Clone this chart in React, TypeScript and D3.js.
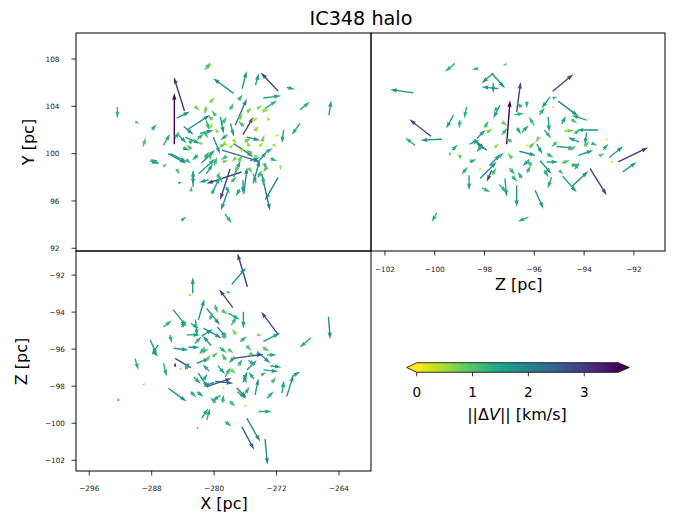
import React from "react";
import * as d3 from "d3";

// ---------- data ----------
// each arrow: [position1, position2, velocity1 (km/s), velocity2 (km/s), |ΔV| (km/s)]
const xyArrows: number[][] = [
  [-285.1, 100.8, 0, 3.66, 3.7], [-283.8, 103.6, -0.76, 2.43, 3.0], [-277.5, 105.1, -1.47, 1.07, 1.9],
  [-271.8, 105.3, -1.24, 1.31, 2.8], [-276.4, 105.5, 0.31, 1.26, 1.8], [-274.7, 105.8, 0.24, 0.84, 1.7],
  [-270.7, 105.6, 0.59, -0.14, 1.5], [-273.7, 104.7, 1.26, 0.16, 1.6], [-273.5, 103.8, 0.88, 0.59, 1.3],
  [-269.0, 103.7, 0.71, 0.59, 1.3], [-265.3, 103.25, 0.17, 1.07, 1.6], [-292.4, 103.95, 0, -0.83, 1.2],
  [-290.1, 102.7, 0.3, -0.12, 1.2], [-288.0, 102.0, 0.36, 0.43, 1.3], [-289.1, 100.6, 0.19, 0.66, 1.0],
  [-287.1, 99.2, -0.59, 0.29, 1.4], [-286.5, 98.9, 0.24, 0.24, 1.2], [-284.2, 94.35, 0.36, 0.29, 1.3],
  [-278.6, 94.9, 0.48, -0.66, 1.3], [-281.2, 107.1, 0.48, 0.43, 0.8], [-281.0, 107.3, 0.3, 0.35, 0.9],
  [-276.9, 104.5, 0.31, 0.43, 1.2], [-274.5, 103.8, 0.36, 0.24, 0.7], [-271.8, 98.0, -0.95, -1.66, 1.9],
  [-273.9, 98.3, 0.59, -2.62, 2.1], [-277.96, 98.7, -0.71, -2.21, 2.9], [-276.5, 98.45, -2.5, -0.83, 3.0],
  [-278.2, 96.9, -0.52, -1.43, 1.7], [-282.7, 98.45, 0, -0.95, 1.6], [-271.5, 99.0, 0, -0.36, 0.6],
  [-276.3, 97.75, 0, -0.95, 1.7], [-273.7, 98.0, 0, -0.6, 1.3], [-285.6, 100.0, 1.19, -0.6, 1.7],
  [-288.2, 99.4, 0.59, -0.24, 1.5], [-282.0, 98.3, 1.19, 1.07, 1.6], [-281.0, 98.3, 0.48, 0.71, 1.5],
  [-280.3, 96.6, 0.24, 0.48, 1.3], [-275.0, 98.3, 0.24, -0.71, 1.4], [-275.4, 99.4, 0.71, 0.24, 1.6],
  [-279.0, 100.3, 2.74, -0.83, 2.2], [-277.3, 102.4, 0.83, 1.9, 2.0], [-276.3, 101.6, 0.76, 1.31, 2.8],
  [-275.8, 103.5, 0.36, 0.36, 0.7], [-273.8, 103.6, 0.48, 0.12, 0.6], [-271.1, 102.0, -0.12, -0.95, 1.6],
  [-269.0, 102.55, -0.6, -0.83, 1.4], [-286.5, 100.7, 0.48, 0.83, 1.3], [-284.8, 103.0, 0.95, 0.48, 1.7],
  [-283.9, 102.3, 0.71, -0.6, 1.6], [-283.5, 102.0, 1.66, 1.07, 1.9], [-281.8, 101.7, 0.95, 0.24, 1.6],
  [-284.6, 101.6, 0.6, -0.6, 1.5], [-283.7, 101.4, 1.07, -0.48, 1.7], [-285.9, 100.0, 1.31, -0.71, 1.8],
  [-280.1, 101.4, 0.48, -1.19, 1.7], [-279.2, 103.1, 0.24, -1.19, 1.7], [-277.9, 102.55, 0.24, -0.95, 1.6],
  [-277.5, 100.85, 1.43, -0.95, 2.0], [-275.8, 101.4, 0.95, -0.24, 1.9], [-281.6, 99.2, 0.95, 0.95, 1.7],
  [-282.7, 97.2, 0, 1.19, 1.6], [-280.1, 96.9, 0.48, 0.95, 1.4], [-276.2, 96.6, 0.24, 1.9, 1.9],
  [-275.0, 97.5, 0.48, 1.66, 1.8], [-277.5, 98.0, 0.48, 1.19, 1.6], [-274.5, 99.2, 0.71, 0.83, 1.6],
  [-272.8, 99.6, 0.5, -0.2, 1.2], [-281.0, 102.8, 0.24, -0.71, 1.3], [-281.0, 104.0, -0.12, -0.6, 0.8],
  [-282.5, 104.0, 0.4, -0.3, 0.7], [-280.5, 102.2, 0.2, 0.35, 0.5], [-279.5, 101.8, -0.25, 0.3, 0.6],
  [-278.8, 101.0, 0.3, -0.3, 0.4], [-278.0, 100.5, 0.3, 0.25, 0.5], [-277.2, 99.7, -0.3, -0.35, 0.7],
  [-276.6, 100.2, 0.35, 0.2, 0.4], [-275.5, 100.6, -0.2, 0.4, 0.6], [-274.8, 101.9, 0.3, 0.4, 0.5],
  [-276.8, 102.9, 0.25, 0.45, 0.8], [-279.8, 103.2, -0.3, 0.4, 1.0], [-280.7, 100.0, 0.2, -0.5, 1.1],
  [-282.9, 100.4, -0.4, 0.3, 1.0], [-283.6, 99.5, 0.35, -0.3, 1.2], [-284.8, 98.7, 0.2, -0.4, 1.1],
  [-278.9, 99.3, 0.4, 0.1, 0.9], [-277.0, 98.9, -0.2, -0.5, 1.0], [-275.6, 98.8, 0.3, -0.4, 0.8],
  [-273.4, 100.1, 0.5, 0.3, 1.3], [-273.9, 101.0, 0.2, 0.5, 0.7], [-272.5, 100.8, 0.3, -0.2, 0.6],
  [-279.6, 98.0, 0.2, 0.4, 1.0], [-281.5, 100.8, -0.3, 0.2, 0.7], [-280.0, 99.0, 0.2, 0.6, 1.2],
  [-278.5, 97.2, 0.3, -0.5, 1.4], [-283.0, 96.8, 0.1, 0.4, 1.1], [-284.6, 97.5, 0.3, 0.1, 1.3],
  [-280.7, 97.8, -0.7, -0.2, 1.5], [-273.0, 102.8, -0.1, 0.3, 0.6], [-272.1, 101.5, 0.3, 0.1, 0.3],
  [-282.2, 101.2, 0.5, 0.4, 1.3], [-281.3, 101.9, 0.3, -0.5, 1.1], [-280.2, 102.9, -0.4, 0.3, 0.9],
  [-279.1, 102.4, 0.4, 0.6, 1.2], [-278.3, 101.6, -0.5, -0.4, 1.4], [-277.6, 101.2, 0.3, -0.3, 0.5],
  [-276.1, 101.0, 0.5, 0.3, 0.8], [-275.2, 100.0, -0.4, 0.3, 1.0], [-274.2, 100.6, 0.3, 0.3, 0.4],
  [-273.6, 99.2, 0.2, -0.5, 1.2], [-274.9, 99.8, 0.4, 0.0, 0.6], [-276.9, 99.3, 0.3, 0.5, 0.9],
  [-278.4, 99.8, -0.4, -0.3, 1.1], [-279.3, 100.6, 0.5, 0.2, 0.8], [-281.2, 99.6, 0.3, 0.5, 1.3],
  [-282.1, 99.9, -0.4, -0.4, 1.4], [-283.2, 100.9, 0.4, 0.3, 1.2], [-284.0, 100.5, 0.5, -0.2, 1.5],
  [-285.0, 101.3, 0.3, 0.5, 1.3], [-279.0, 97.6, -0.3, 0.6, 1.3], [-277.8, 97.6, 0.4, 0.4, 1.1],
  [-276.7, 97.0, -0.3, -0.5, 1.4], [-274.4, 98.0, 0.3, 0.5, 1.2], [-273.2, 98.9, -0.3, -0.4, 1.0],
  [-276.2, 102.3, -0.4, 0.4, 1.0], [-275.2, 102.8, 0.5, 0.2, 0.4], [-278.0, 103.7, 0.3, 0.5, 1.1],
  [-280.6, 104.3, 0.4, 0.4, 0.6],
];

const zyArrows: number[][] = [
  [-97.11, 100.8, 0.24, 3.14, 3.7], [-96.71, 103.53, 0.29, 2.14, 2.9], [-100.86, 105.14, -1.66, 0.24, 1.9],
  [-100.15, 101.47, -1.55, 1.21, 2.8], [-99.72, 101.22, -1.5, -0.07, 1.8], [-100.79, 100.7, -0.71, 0.55, 1.3],
  [-99.19, 107.63, -0.71, -0.6, 1.3], [-98.25, 107.2, -0.48, -0.07, 1.1], [-97.11, 107.57, -0.3, -0.1, 0.9],
  [-97.65, 106.8, -0.83, -0.71, 1.8], [-97.71, 106.8, 0.95, -1.07, 1.8], [-97.45, 105.5, -1.19, 0.11, 1.7],
  [-97.65, 105.95, 0, -0.71, 1.7], [-97.5, 103.9, -0.24, -0.36, 1.2], [-99.25, 103.25, -0.52, -0.95, 1.6],
  [-98.72, 103.95, -0.17, -0.83, 1.3], [-98.99, 102.83, -0.05, -0.6, 1.2], [-97.38, 104.1, -0.48, -0.95, 1.6],
  [-95.26, 105.28, 1.47, 1.21, 2.9], [-95.04, 104.44, 1.43, -1.07, 1.9], [-93.9, 102.83, -1.07, 0.36, 1.6],
  [-93.43, 102.0, -1.55, 0, 1.7], [-95.26, 104.7, 0.33, 0.07, 1.6], [-95.37, 104.8, -0.6, -0.83, 1.5],
  [-92.63, 99.3, 2.14, 1.03, 3.0], [-92.99, 99.67, 1.0, 0.81, 1.7], [-92.45, 98.45, 1.0, 0.71, 1.7],
  [-93.76, 98.73, 1.19, -1.9, 2.9], [-94.5, 97.2, 1.19, 1.12, 1.8], [-94.86, 98.1, 1.0, -1.16, 1.7],
  [-95.97, 96.9, 0.6, -1.31, 1.7], [-94.37, 98.7, 0.36, 0.48, 1.3], [-93.23, 100.3, 0.36, 0.48, 1.3],
  [-95.5, 99.3, 0.83, 0, 1.5], [-94.9, 99.2, 0.6, 0.2, 1.0], [-94.23, 99.86, 1.07, 0.36, 1.6],
  [-95.1, 100.6, 1.31, -0.12, 1.7], [-95.77, 99.4, 0.83, -0.95, 1.7], [-98.62, 98.17, 0, -1.07, 1.6],
  [-99.0, 99.9, 0.05, -0.36, 1.2], [-99.92, 94.97, -0.36, -0.64, 1.3], [-96.24, 94.63, -0.76, -0.31, 1.3],
  [-96.71, 97.32, 0, -1.55, 1.8], [-97.18, 97.9, 0.12, -1.31, 1.7], [-97.71, 98.6, -0.36, -0.83, 2.8],
  [-98.18, 97.9, 1.19, 1.19, 1.8], [-96.3, 104.4, 0, -0.48, 1.3], [-95.44, 103.1, 0.07, -1.07, 1.6],
  [-93.9, 101.8, -0.12, -0.9, 1.6], [-94.8, 101.9, 0.71, 0.05, 0.8], [-99.05, 99.86, 0.05, 0.05, 0.1],
  [-98.18, 98.73, 0.05, 0.05, 0.1], [-96.31, 100.7, 0.05, 0.05, 0.1], [-95.24, 103.95, 0.05, 0.05, 0.1],
  [-93.09, 101.2, 0.05, 0.05, 0.1], [-92.89, 99.3, 0.05, 0.05, 0.2], [-99.39, 100.1, 0, -0.3, 1.2],
  [-98.4, 101.2, 0.71, -0.71, 2.7], [-98.3, 101.3, 0.6, 0.6, 1.6], [-97.9, 100.3, -0.8, 0.5, 2.0],
  [-97.8, 99.0, 0.8, 0.8, 1.9], [-96.5, 101.8, 0.5, 0.5, 1.4], [-96.0, 102.4, -0.4, 0.6, 1.2],
  [-96.6, 100.2, 1.2, -0.3, 1.8], [-95.9, 100.8, 0.4, -0.7, 1.7], [-96.2, 99.5, -0.5, -0.5, 1.5],
  [-95.3, 98.0, -0.3, -0.8, 1.4], [-97.0, 98.8, 0.4, -0.5, 1.2], [-96.9, 99.6, -0.3, 0.4, 0.9],
  [-98.0, 102.2, 0.3, 0.5, 1.1], [-97.3, 102.7, 0.4, -0.3, 0.8], [-96.8, 103.3, 0.7, 0.1, 1.3],
  [-95.6, 102.0, 0.5, -0.6, 1.3], [-94.9, 102.5, 0.3, 0.6, 1.5], [-94.2, 101.0, -0.8, 0.3, 1.6],
  [-94.6, 100.3, 0.5, 0.3, 1.0], [-95.8, 101.4, -0.3, -0.4, 0.7], [-97.6, 100.5, 0.3, 0.3, 0.6],
  [-96.3, 98.4, 0.3, 0.5, 1.2], [-98.9, 98.3, 0.4, 0.5, 1.3], [-98.6, 100.8, 0.7, 0.3, 1.5],
  [-99.3, 100.3, 0.4, 0.4, 1.4], [-97.4, 97.4, 0.5, -0.6, 1.3], [-96.5, 97.9, -0.3, 0.5, 1.3],
  [-98.1, 97.1, 0.6, -0.3, 1.2], [-95.0, 98.6, 0.3, -0.3, 1.1], [-93.4, 99.8, 0.4, 0.2, 1.0],
  [-93.7, 100.9, 0.4, -0.2, 1.3], [-97.3, 101.6, 0.4, 0.5, 1.2], [-96.9, 101.0, -0.5, 0.3, 1.1],
  [-96.2, 100.5, 0.4, 0.4, 0.9], [-95.5, 100.0, 0.5, -0.3, 1.2], [-95.1, 101.0, -0.4, -0.4, 1.0],
  [-94.4, 101.7, 0.5, 0.3, 1.1], [-94.0, 100.6, 0.4, 0.4, 0.9], [-96.7, 102.2, 0.3, -0.5, 1.3],
  [-97.9, 101.8, 0.4, 0.3, 0.7], [-98.1, 100.7, -0.4, -0.5, 1.4], [-97.5, 99.6, 0.5, 0.4, 1.3],
  [-96.1, 99.0, -0.4, 0.4, 1.2], [-95.6, 98.6, 0.3, -0.5, 1.4], [-94.5, 99.0, 0.5, 0.1, 1.3],
  [-97.7, 98.2, 0.3, 0.5, 1.1], [-96.9, 98.1, 0.4, -0.4, 1.2], [-98.6, 99.3, 0.5, 0.2, 1.3],
  [-95.8, 103.3, 0.4, 0.5, 1.3], [-96.5, 103.9, -0.4, 0.4, 1.2], [-94.5, 102.9, 0.4, -0.3, 1.0],
];

const xzArrows: number[][] = [
  [-275.74, -92.63, -0.71, 2.39, 2.9], [-277.74, -92.5, 1.02, 1.19, 1.8], [-282.74, -92.98, 0, 1.14, 1.7],
  [-277.6, -93.76, -0.98, 1.31, 2.8], [-278.4, -92.9, 0.35, -0.1, 0.9], [-283.1, -93.07, 0.1, 0.1, 0.4],
  [-271.76, -95.23, -1.24, 1.66, 2.8], [-265.35, -94.25, 0.12, -1.6, 1.8], [-267.6, -95.38, -0.81, -0.71, 1.4],
  [-273.68, -95.58, 1.19, 0.6, 1.6], [-276.25, -93.98, 0, -1.19, 1.7], [-278.2, -94.06, 0.83, -0.45, 1.4],
  [-282.02, -94.42, 0.43, 1.48, 1.7], [-282.4, -94.4, 0.12, -1.19, 1.6], [-285.23, -93.88, 0.95, -1.19, 1.7],
  [-286.5, -94.8, 0.6, 0.48, 1.3], [-280.95, -93.8, 0.95, -1.19, 1.8], [-281.38, -94.87, 1.31, -0.71, 1.7],
  [-283.5, -95.23, 0.95, 0, 1.6], [-285.65, -95.23, 0.12, -0.6, 1.3], [-290.14, -96.5, 0.24, -0.83, 1.3],
  [-288.2, -95.5, 0.48, -1.07, 1.6], [-287.15, -95.77, -0.48, -0.71, 1.6], [-274.5, -95.23, 0.36, 0, 0.8],
  [-285.87, -98.11, 1.31, -0.95, 1.8], [-276.46, -100.18, 0.88, -1.66, 2.5], [-275.82, -99.73, 0.95, -1.66, 1.9],
  [-273.47, -100.86, 0.17, -1.83, 1.9], [-280.95, -99.82, 0.24, 0.83, 1.4], [-281.6, -99.73, 0.48, 0.71, 1.4],
  [-278.6, -99.91, 0.48, -0.36, 1.3], [-282.2, -100.2, 0.12, -0.24, 0.8], [-274.33, -99.37, 0.95, 0, 1.4],
  [-273.25, -98.65, 0.5, 0.5, 1.3], [-278.9, -98.9, 0.05, 0.6, 1.3], [-271.33, -98.38, 0.17, 0.9, 1.6],
  [-270.7, -98.56, 0.48, 1.55, 1.7], [-270.05, -97.48, 0.6, 0.36, 1.6], [-274.75, -98.47, 0.24, 1.19, 1.7],
  [-289.07, -97.93, 0.12, 0.12, 1.2], [-292.27, -98.74, -0.07, -0.12, 1.2], [-286.5, -96.76, 0.24, -0.95, 1.4],
  [-287.8, -96.13, 0.36, -0.36, 1.7], [-285.0, -96.5, 1.19, -0.71, 2.7], [-282.2, -98.3, 0.48, -0.36, 1.6],
  [-282.02, -97.3, 0.71, -1.07, 1.7], [-279.88, -97.75, 1.31, -0.12, 2.5], [-280.95, -98.02, 1.79, 0.6, 2.7],
  [-282.23, -96.76, 0.95, 0.36, 1.7], [-277.1, -98.1, 0.71, -0.71, 2.1], [-276.25, -97.4, 0.24, -0.6, 1.7],
  [-275.8, -97.12, 0.71, 0.71, 1.7], [-273.68, -97.12, 1.07, -0.12, 1.6], [-273.25, -96.31, 0.71, 0, 1.4],
  [-274.5, -96.13, 0.95, -0.83, 1.7], [-285.0, -96.94, 0, 0.3, 3.7], [-278.8, -98.1, 0.05, 0.05, 0.1],
  [-277.7, -99.0, 0.05, 0.05, 0.1], [-276.0, -99.06, 0.05, 0.05, 0.1], [-284.4, -97.1, 0.2, 0.2, 0.5],
  [-283.0, -94.6, 0.6, -0.4, 1.5], [-281.6, -95.3, 0.8, 0.5, 1.7], [-280.4, -95.8, -0.6, 0.7, 1.7],
  [-279.6, -94.8, 0.7, -0.8, 1.8], [-278.9, -95.4, 0.3, 0.4, 1.1], [-278.2, -96.0, 0.4, -0.3, 0.9],
  [-277.4, -96.4, -0.4, -0.5, 1.4], [-276.7, -95.6, 0.5, 0.4, 1.2], [-277.5, -96.5, 2.14, 0.3, 2.7],
  [-279.5, -96.9, 0.5, -0.6, 1.6], [-280.6, -97.2, -0.5, 0.5, 1.4], [-281.8, -96.2, 0.6, 0.3, 1.3],
  [-283.3, -95.9, 0.8, 0, 1.7], [-285.2, -95.95, 1.07, -0.12, 1.7], [-280.0, -97.8, -0.8, -0.3, 1.9],
  [-278.6, -97.5, 0.4, 0.7, 1.3], [-277.0, -98.3, 0.6, -0.5, 1.7], [-276.3, -97.8, 0.3, 0.8, 1.5],
  [-274.9, -97.6, -0.4, 0.5, 1.4], [-277.8, -94.7, 0.4, 0.6, 1.2], [-281.0, -96.6, 0.3, 0.4, 0.9],
  [-279.2, -98.5, -0.6, -0.4, 1.5], [-282.6, -97.5, 0.5, -0.5, 1.5], [-283.7, -97.1, 0.3, 0.5, 1.3],
  [-275.6, -96.6, 0.5, -0.4, 1.3], [-274.0, -97.4, 0.4, 0.2, 1.2], [-272.8, -96.9, 0.8, -0.1, 1.6],
  [-279.9, -93.6, 0.2, -0.6, 1.1], [-282.5, -95.7, 0.5, 0.5, 1.3], [-281.2, -95.9, -0.4, -0.5, 1.2],
  [-280.2, -96.4, 0.4, 0.3, 0.9], [-279.3, -95.9, 0.5, -0.4, 1.3], [-278.5, -96.6, -0.3, 0.5, 1.1],
  [-277.9, -97.1, 0.4, -0.3, 0.8], [-276.9, -96.9, 0.3, 0.5, 1.2], [-275.9, -95.8, 0.4, -0.4, 1.0],
  [-275.1, -96.2, -0.4, -0.3, 0.9], [-276.0, -98.4, 0.3, 0.5, 1.3], [-278.0, -98.8, 0.4, -0.4, 1.1],
  [-279.8, -98.9, -0.4, 0.4, 1.2], [-281.4, -97.7, 0.3, 0.5, 1.3], [-283.0, -98.3, 0.4, -0.4, 1.4],
  [-280.6, -94.4, 0.3, 0.5, 1.2], [-279.0, -93.9, 0.4, -0.3, 1.0], [-277.2, -95.2, -0.3, 0.4, 0.7],
  [-284.2, -94.8, 0.4, 0.4, 1.4], [-273.8, -95.9, 0.5, -0.3, 1.0], [-272.6, -97.8, 0.3, 0.4, 1.1],
];

const xTicks = [-296, -288, -280, -272, -264];
const yTicks = [92, 96, 100, 104, 108];
const zTicks = [-102, -100, -98, -96, -94, -92];
const cbTicks = [0, 1, 2, 3];
const V_MAX = 3.61;

// ---------- layout ----------
const FONT = "DejaVu Sans, sans-serif";
const L = 76, MID_X = 371, R = 665, T = 33, MID_Y = 251, B = 471;
const PX_PER_KMS = 14;

const xScale = d3.scaleLinear().domain([-297.7, -259.9]).range([L, MID_X]);
const yScale = d3.scaleLinear().domain([91.77, 110.2]).range([MID_Y, T]);
const zHScale = d3.scaleLinear().domain([-102.56, -90.75]).range([MID_X, R]);
const zVScale = d3.scaleLinear().domain([-102.58, -90.7]).range([B, MID_Y]);
const cScale = d3.scaleLinear().domain([0, V_MAX]).range([416.7, 618.3]);
const fmt = d3.format("d");

const colorOf = (s: number) => d3.interpolateViridis(1 - Math.max(0, Math.min(s, V_MAX)) / V_MAX);

function arrowPath(x0: number, y0: number, dx: number, dy: number): string {
  const len = Math.hypot(dx, dy);
  if (len < 2) {
    const r = 1.2;
    const pts = d3.range(6).map((i) => [x0 + r * Math.cos((i * Math.PI) / 3), y0 + r * Math.sin((i * Math.PI) / 3)]);
    return "M" + pts.map((p) => p.join(",")).join("L") + "Z";
  }
  let w = 1.4, hl = 5 * w, hal = 4.5 * w, hh = 1.5 * w;
  if (len < hl) {
    const k = len / hl;
    w *= k; hl *= k; hal *= k; hh *= k;
  }
  const c = dx / len, s = dy / len;
  const local = [
    [0, -w / 2], [len - hal, -w / 2], [len - hl, -hh], [len, 0],
    [len - hl, hh], [len - hal, w / 2], [0, w / 2],
  ];
  const pts = local.map(([px, py]) => [x0 + px * c - py * s, y0 + px * s + py * c]);
  return "M" + pts.map((p) => `${p[0].toFixed(2)},${p[1].toFixed(2)}`).join("L") + "Z";
}

type Sc = d3.ScaleLinear<number, number>;

function Quiver({ data, sx, sy, clip }: { data: number[][]; sx: Sc; sy: Sc; clip: string }) {
  return (
    <g clipPath={`url(#${clip})`}>
      {data.map((d, i) => (
        <path key={i} d={arrowPath(sx(d[0]), sy(d[1]), d[2] * PX_PER_KMS, -d[3] * PX_PER_KMS)} fill={colorOf(d[4])} />
      ))}
    </g>
  );
}

function LeftAxis({ ticks, sy, x, labelX }: { ticks: number[]; sy: Sc; x: number; labelX: number }) {
  return (
    <g>
      {ticks.map((t) => (
        <g key={t}>
          <line x1={x - 4.5} x2={x} y1={sy(t)} y2={sy(t)} stroke="#000" strokeWidth={0.8} />
          <text x={labelX} y={sy(t)} dy="0.36em" textAnchor="end" fontSize={7.3} fontFamily={FONT} fill="#222">
            {fmt(t)}
          </text>
        </g>
      ))}
    </g>
  );
}

function BottomAxis({ ticks, sx, y, labelY }: { ticks: number[]; sx: Sc; y: number; labelY: number }) {
  return (
    <g>
      {ticks.map((t) => (
        <g key={t}>
          <line x1={sx(t)} x2={sx(t)} y1={y} y2={y + 4.5} stroke="#000" strokeWidth={0.8} />
          <text x={sx(t)} y={labelY} textAnchor="middle" fontSize={7.3} fontFamily={FONT} fill="#222">
            {fmt(t)}
          </text>
        </g>
      ))}
    </g>
  );
}

function Colorbar() {
  const y0 = 362.7, y1 = 372.3, ym = (y0 + y1) / 2;
  const x0 = cScale(0), x1 = cScale(V_MAX);
  const stops = d3.range(0, 1.0001, 0.05);
  const outline = `M${x0 - 10},${ym}L${x0},${y0}L${x1},${y0}L${x1 + 11},${ym}L${x1},${y1}L${x0},${y1}Z`;
  return (
    <g>
      <defs>
        <linearGradient id="cbgrad" x1="0" x2="1" y1="0" y2="0">
          {stops.map((t) => (
            <stop key={t} offset={t} stopColor={colorOf(t * V_MAX)} />
          ))}
        </linearGradient>
      </defs>
      <path d={`M${x0 - 10},${ym}L${x0 + 0.5},${y0}L${x0 + 0.5},${y1}Z`} fill={colorOf(0)} />
      <path d={`M${x1 + 11},${ym}L${x1 - 0.5},${y0}L${x1 - 0.5},${y1}Z`} fill={colorOf(V_MAX)} />
      <rect x={x0} y={y0} width={x1 - x0} height={y1 - y0} fill="url(#cbgrad)" />
      <path d={outline} fill="none" stroke="#000" strokeWidth={0.8} />
      {cbTicks.map((t) => (
        <g key={t}>
          <line x1={cScale(t)} x2={cScale(t)} y1={y1} y2={y1 + 4} stroke="#000" strokeWidth={0.8} />
          <text x={cScale(t)} y={397} textAnchor="middle" fontSize={13.5} fontFamily={FONT} fill="#000">
            {fmt(t)}
          </text>
        </g>
      ))}
      <text x={517} y={419.5} textAnchor="middle" fontSize={16} fontFamily={FONT} fill="#000">
        ||Δ<tspan fontStyle="italic">V</tspan>|| [km/s]
      </text>
    </g>
  );
}

export default function App() {
  return (
    <svg
      width={684}
      height={515}
      viewBox="0 0 684 515"
      style={{ position: "absolute", left: 0, top: 0, background: "#fff" }}
    >
      <defs>
        <clipPath id="cpA"><rect x={L} y={T} width={MID_X - L} height={MID_Y - T} /></clipPath>
        <clipPath id="cpB"><rect x={MID_X} y={T} width={R - MID_X} height={MID_Y - T} /></clipPath>
        <clipPath id="cpC"><rect x={L} y={MID_Y} width={MID_X - L} height={B - MID_Y} /></clipPath>
      </defs>
      <rect x={0} y={0} width={684} height={515} fill="#fff" />
      <text x={361} y={25} textAnchor="middle" fontSize={19.2} fontFamily={FONT} fill="#000">
        IC348 halo
      </text>

      <Quiver data={xyArrows} sx={xScale} sy={yScale} clip="cpA" />
      <Quiver data={zyArrows} sx={zHScale} sy={yScale} clip="cpB" />
      <Quiver data={xzArrows} sx={xScale} sy={zVScale} clip="cpC" />

      {/* frames */}
      <rect x={L} y={T} width={MID_X - L} height={MID_Y - T} fill="none" stroke="#000" strokeWidth={1} />
      <rect x={MID_X} y={T} width={R - MID_X} height={MID_Y - T} fill="none" stroke="#000" strokeWidth={1} />
      <rect x={L} y={MID_Y} width={MID_X - L} height={B - MID_Y} fill="none" stroke="#000" strokeWidth={1} />

      <LeftAxis ticks={yTicks} sy={yScale} x={L} labelX={59.5} />
      <BottomAxis ticks={zTicks} sx={zHScale} y={MID_Y} labelY={271.5} />
      <LeftAxis ticks={zTicks} sy={zVScale} x={L} labelX={65} />
      <BottomAxis ticks={xTicks} sx={xScale} y={B} labelY={491} />

      <text transform="translate(34,142) rotate(-90)" textAnchor="middle" fontSize={16} fontFamily={FONT}>Y [pc]</text>
      <text transform="translate(27,361.5) rotate(-90)" textAnchor="middle" fontSize={16} fontFamily={FONT}>Z [pc]</text>
      <text x={518.8} y={290} textAnchor="middle" fontSize={16} fontFamily={FONT}>Z [pc]</text>
      <text x={224} y={509} textAnchor="middle" fontSize={16} fontFamily={FONT}>X [pc]</text>

      <Colorbar />
    </svg>
  );
}
